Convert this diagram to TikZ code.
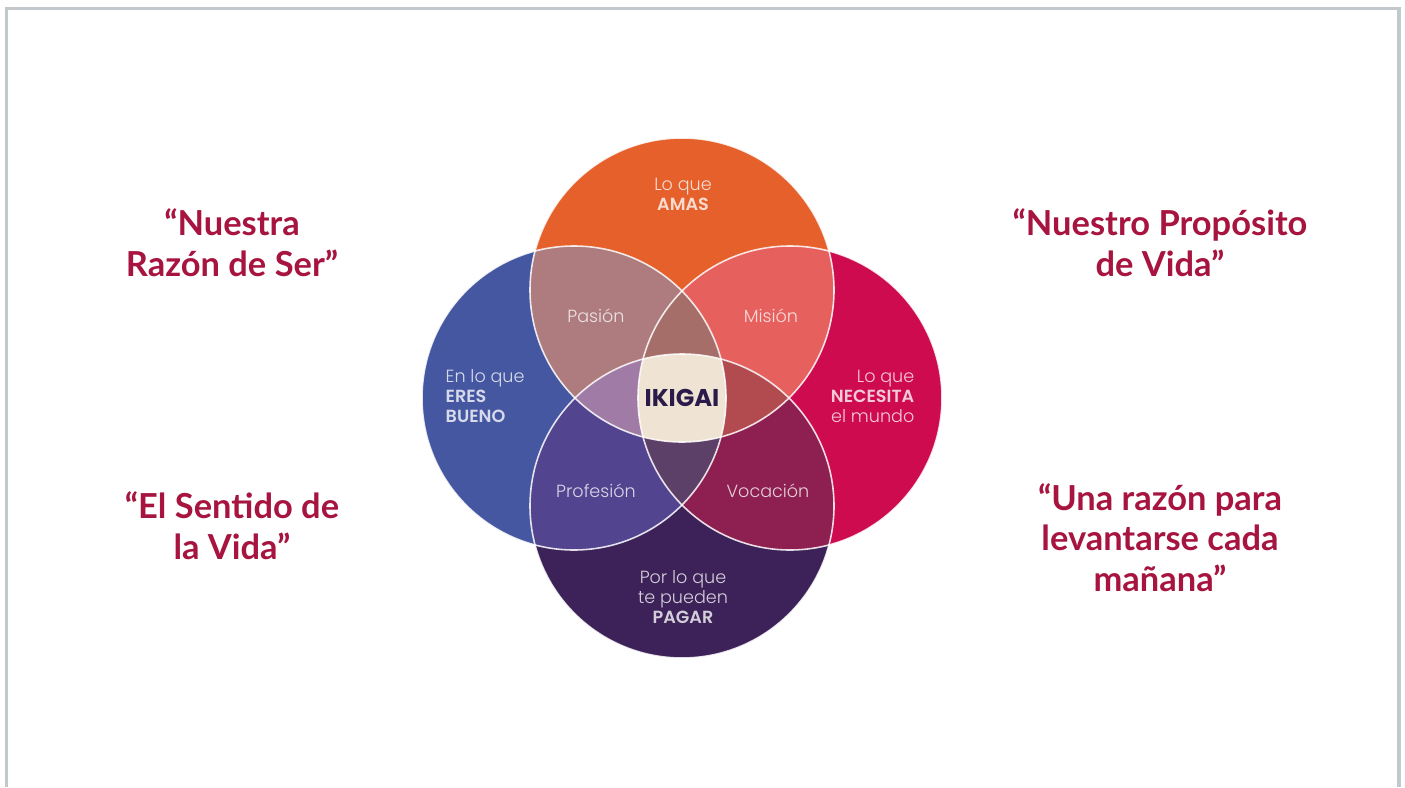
\documentclass[tikz,border=0pt]{standalone}
\usepackage{fontspec}
\setmainfont{Lato}
\newfontfamily\ikifont{Poppins}[UprightFont={* Light},BoldFont={* SemiBold}]
\newfontfamily\ikititre{Poppins}[UprightFont={* Bold}]

\definecolor{cadre}{HTML}{C3C8CC}
\definecolor{rouge}{HTML}{A6143F}
\definecolor{amas}{HTML}{E5602B}
\definecolor{bueno}{HTML}{4657A1}
\definecolor{necesita}{HTML}{CD0B4E}
\definecolor{pagar}{HTML}{3C2258}
\definecolor{pasion}{HTML}{AE7C7E}
\definecolor{mision}{HTML}{E6605D}
\definecolor{profesion}{HTML}{52448F}
\definecolor{vocacion}{HTML}{8D1F51}
\definecolor{haut}{HTML}{A66E68}
\definecolor{gauche}{HTML}{A07BA5}
\definecolor{droite}{HTML}{B24B4F}
\definecolor{bas}{HTML}{5D4067}
\definecolor{centre}{HTML}{EFE4D3}
\definecolor{encre}{HTML}{2B1B4B}

\begin{document}
\begin{tikzpicture}[
    citation/.style={text=rouge, font=\fontsize{9.8}{11.6}\selectfont\bfseries, align=center},
    etiquette/.style={text=white, text opacity=0.78, font=\ikifont\fontsize{5}{5.7}\selectfont, inner sep=0pt},
    contour/.style={draw=white, draw opacity=0.85, line width=0.45pt},
  ]
    \useasboundingbox (0,0) rectangle (14.05,7.87);

        % Le cadre
        \draw[cadre, line width=1pt] (0.067,0) -- (0.067,7.783) -- (13.99,7.783) -- (13.99,0);

        % Les quatre cercles
        \def\cercleHaut{(6.82,4.97) circle (1.52)}
        \def\cercleBas{(6.82,2.81) circle (1.52)}
        \def\cercleGauche{(5.74,3.89) circle (1.52)}
        \def\cercleDroite{(7.90,3.89) circle (1.52)}

        \fill[amas] \cercleHaut;
        \fill[pagar] \cercleBas;
        \fill[bueno] \cercleGauche;
        \fill[necesita] \cercleDroite;

        % Les intersections de deux cercles
        \begin{scope} \clip \cercleHaut; \fill[pasion] \cercleGauche; \fill[mision] \cercleDroite; \end{scope}
        \begin{scope} \clip \cercleBas; \fill[profesion] \cercleGauche; \fill[vocacion] \cercleDroite; \end{scope}

        % Les intersections de trois cercles
        \begin{scope} \clip \cercleHaut; \clip \cercleGauche; \fill[haut] \cercleDroite; \end{scope}
        \begin{scope} \clip \cercleBas; \clip \cercleGauche; \fill[bas] \cercleDroite; \end{scope}
        \begin{scope} \clip \cercleHaut; \clip \cercleBas; \fill[gauche] \cercleGauche; \fill[droite] \cercleDroite; \end{scope}

        % Le centre
        \begin{scope} \clip \cercleHaut; \clip \cercleBas; \clip \cercleGauche; \fill[centre] \cercleDroite; \end{scope}

        % Les contours blancs
        \draw[contour] \cercleHaut;
        \draw[contour] \cercleBas;
        \draw[contour] \cercleGauche;
        \draw[contour] \cercleDroite;

        % Les textes dans les cercles
        \node[etiquette, align=center] (amas) at (6.83, 5.925) {Lo que\\\textbf{AMAS}};
        \node[etiquette, align=center] (pagar) at (6.83, 1.90) {Por lo que\\te pueden\\\textbf{PAGAR}};
        \node[etiquette, align=left, anchor=west] (bueno) at (4.45, 3.91) {En lo que\\\textbf{ERES}\\\textbf{BUENO}};
        \node[etiquette, align=right, anchor=east] (necesita) at (9.15, 3.91) {Lo que\\\textbf{NECESITA}\\el mundo};

        \node[etiquette] (pasion) at (5.96, 4.71) {Pasión};
        \node[etiquette] (mision) at (7.71, 4.71) {Misión};
        \node[etiquette] (profesion) at (5.96, 2.96) {Profesión};
        \node[etiquette] (vocacion) at (7.68, 2.96) {Vocación};

        \node[text=encre, font=\ikititre\fontsize{6.9}{7}\selectfont] (ikigai) at (6.82, 3.89) {IKIGAI};

        % Les citations
        \node[citation] (razon) at (2.32, 5.445) {“Nuestra\\Razón de Ser”};
        \node[citation] (proposito) at (11.60, 5.445) {“Nuestro Propósito\\de Vida”};
        \node[citation] (sentido) at (2.32, 2.615) {“El Sentido de\\la Vida”};
        \node[citation] (manana) at (11.60, 2.495) {“Una razón para\\levantarse cada\\mañana”};

    \end{tikzpicture}
\end{document}
